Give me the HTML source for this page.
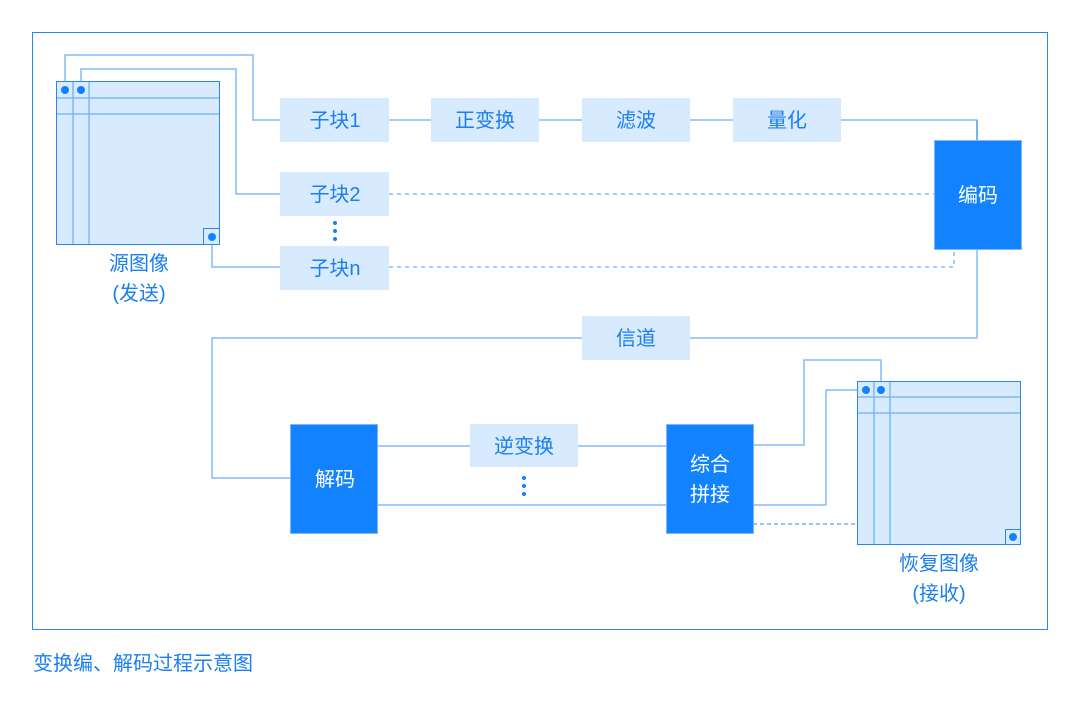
<!DOCTYPE html>
<html><head><meta charset="utf-8"><style>
html,body{margin:0;padding:0;background:#fff;}
svg{display:block;}
text{font-family:"Liberation Sans","Noto Sans CJK SC",sans-serif;}
</style></head><body>
<svg width="1080" height="702" viewBox="0 0 1080 702" xmlns="http://www.w3.org/2000/svg">
<rect x="32.5" y="32.5" width="1015" height="597" fill="none" stroke="#2d86f0" stroke-width="1"/>
<g fill="none" stroke="#82bcfb" stroke-width="1.5">
<!-- source connectors -->
<polyline points="65,89 65,55 253,55 253,120 280,120"/>
<polyline points="81,89 81,69 236,69 236,194 280,194"/>
<polyline points="212,237 212,267 280,267"/>
<!-- top chain -->
<line x1="389" y1="120" x2="431" y2="120"/>
<line x1="539" y1="120" x2="582" y2="120"/>
<line x1="690" y1="120" x2="733" y2="120"/>
<polyline points="841,120 977,120 977,140"/>
<!-- channel -->
<polyline points="977,249 977,338 690,338"/>
<polyline points="582,338 212,338 212,478 290,478"/>
<!-- decode -->
<line x1="378" y1="446" x2="470" y2="446"/>
<line x1="578" y1="446" x2="666" y2="446"/>
<line x1="378" y1="505" x2="666" y2="505"/>
<polyline points="753,445 804,445 804,360 881,360 881,390"/>
<polyline points="753,505 826,505 826,390 866,390"/>
</g>
<g fill="none" stroke="#82bcfb" stroke-width="1.5" stroke-dasharray="4,4">
<line x1="389" y1="194" x2="934" y2="194"/>
<polyline points="389,267 954,267 954,249"/>
</g>
<line x1="753" y1="524" x2="857" y2="524" stroke="#2d86f0" stroke-width="1" stroke-dasharray="4,3"/>
<line x1="977" y1="140" x2="977" y2="120" stroke="#2d86f0"/>
<!-- source image -->
<rect x="56.5" y="81.5" width="163" height="163" fill="#d8eafd" stroke="#2d86f0" stroke-width="1"/>
<g stroke="#7ab8ff" stroke-width="1.5">
<line x1="73" y1="82" x2="73" y2="244"/><line x1="89" y1="82" x2="89" y2="244"/>
<line x1="57" y1="98" x2="219" y2="98"/><line x1="57" y1="114" x2="219" y2="114"/>
</g>
<rect x="203.5" y="228.5" width="16" height="16" fill="none" stroke="#2d86f0"/>
<g fill="#1282ff"><circle cx="65" cy="90" r="4"/><circle cx="81" cy="90" r="4"/><circle cx="212" cy="237" r="4"/></g>
<!-- recovered image -->
<rect x="857.5" y="381.5" width="163" height="163" fill="#d8eafd" stroke="#2d86f0" stroke-width="1"/>
<g stroke="#7ab8ff" stroke-width="1.5">
<line x1="874" y1="382" x2="874" y2="544"/><line x1="890" y1="382" x2="890" y2="544"/>
<line x1="858" y1="397" x2="1020" y2="397"/><line x1="858" y1="413" x2="1020" y2="413"/>
</g>
<rect x="1005.5" y="529.5" width="15" height="15" fill="none" stroke="#2d86f0"/>
<g fill="#1282ff"><circle cx="866" cy="390" r="4"/><circle cx="881" cy="390" r="4"/><circle cx="1013" cy="537" r="4"/></g>
<!-- light boxes -->
<g fill="#d8eafd">
<rect x="280" y="98" width="109" height="44"/>
<rect x="431" y="98" width="108" height="44"/>
<rect x="582" y="98" width="108" height="44"/>
<rect x="733" y="98" width="108" height="44"/>
<rect x="280" y="172" width="109" height="44"/>
<rect x="280" y="246" width="109" height="44"/>
<rect x="582" y="316" width="108" height="44"/>
<rect x="470" y="424" width="108" height="43"/>
</g>
<!-- dark boxes -->
<g fill="#1282ff" stroke="#7ab8ff" stroke-width="1">
<rect x="934.5" y="140.5" width="87" height="109"/>
<rect x="290.5" y="424.5" width="87" height="109"/>
<rect x="666.5" y="424.5" width="87" height="109"/>
</g>
<g fill="#1282ff">
<circle cx="335" cy="223" r="2"/><circle cx="335" cy="231" r="2"/><circle cx="335" cy="239" r="2"/>
<circle cx="524" cy="478" r="2"/><circle cx="524" cy="486" r="2"/><circle cx="524" cy="494" r="2"/>
</g>
<g fill="#1a7ff0" font-size="20" text-anchor="middle">
<text x="335" y="127">子块1</text>
<text x="485" y="127">正变换</text>
<text x="636" y="127">滤波</text>
<text x="787" y="127">量化</text>
<text x="335" y="201">子块2</text>
<text x="335" y="275">子块n</text>
<text x="636" y="345">信道</text>
<text x="524" y="453">逆变换</text>
<text x="139" y="270">源图像</text>
<text x="139" y="300">(发送)</text>
<text x="939" y="570">恢复图像</text>
<text x="939" y="600">(接收)</text>
</g>
<g fill="#fff" font-size="20" text-anchor="middle">
<text x="978" y="202">编码</text>
<text x="335" y="486">解码</text>
<text x="710" y="471">综合</text>
<text x="710" y="501">拼接</text>
</g>
<text x="33" y="670" fill="#1a7ff0" font-size="20">变换编、解码过程示意图</text>
</svg>
</body></html>
